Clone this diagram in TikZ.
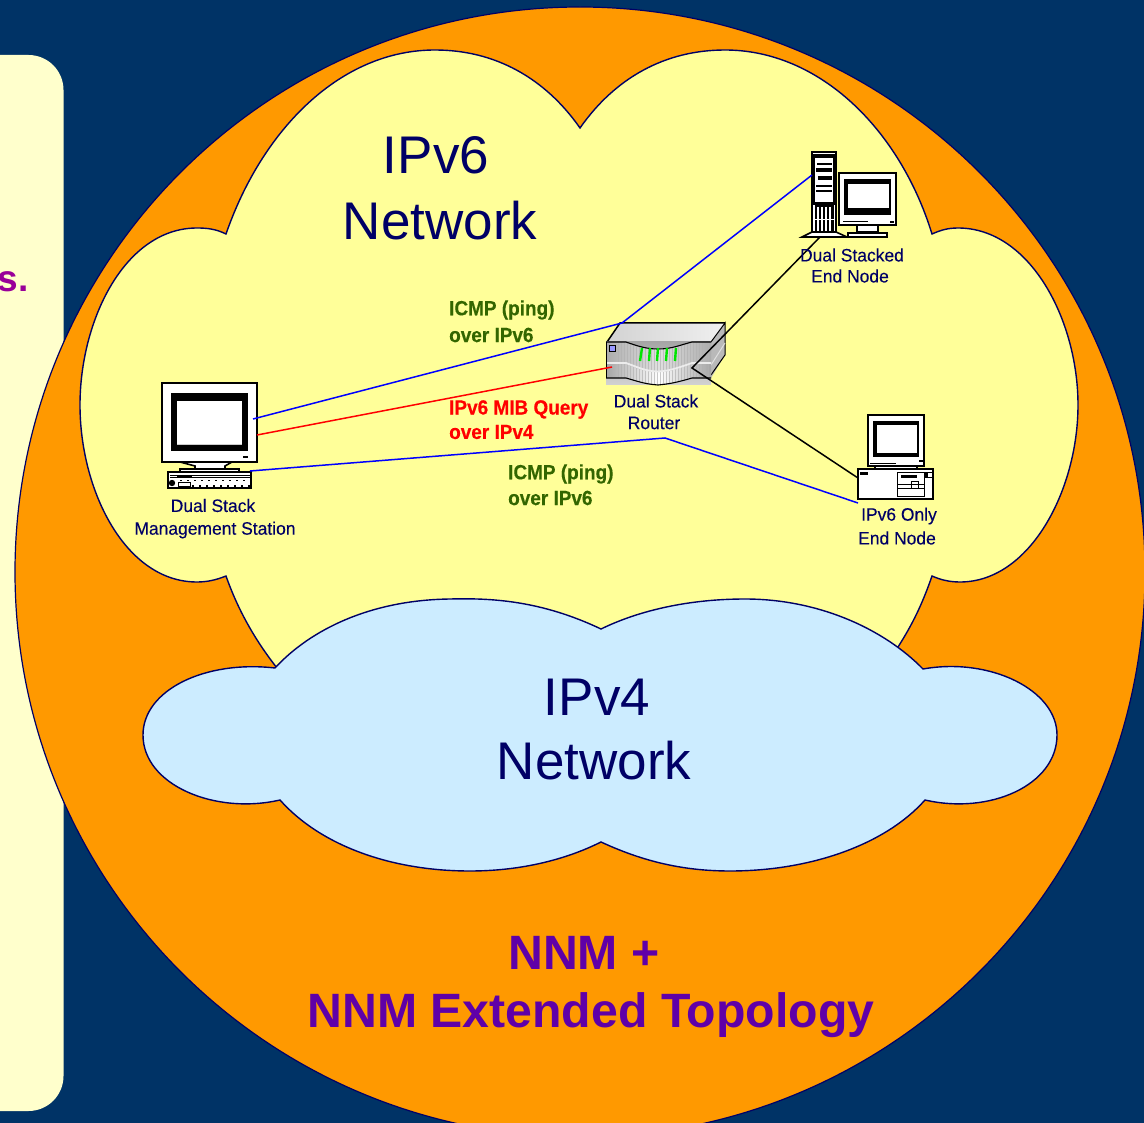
\documentclass[tikz,border=0pt]{standalone}
\usepackage{fontspec}
\setmainfont{Liberation Sans}
\newfontfamily\labelfont[FakeStretch=0.97,FakeBold=0.15]{Liberation Sans}
\newfontfamily\boldlabel[FakeStretch=0.925,FakeBold=0.3]{Liberation Sans Bold}
\definecolor{bgnavy}{HTML}{003366}
\definecolor{orangec}{HTML}{FF9900}
\definecolor{yellowc}{HTML}{FFFF99}
\definecolor{bluec}{HTML}{CCECFF}
\definecolor{panelc}{HTML}{FFFFCC}
\definecolor{inkc}{HTML}{000066}
\definecolor{greenc}{HTML}{336600}
\definecolor{purplec}{HTML}{5F00A8}
\definecolor{magc}{HTML}{990099}
\definecolor{linkblue}{HTML}{0000FF}
\tikzset{
 x=1pt,y=-1pt,
 bigtext/.style={text=inkc,font=\fontsize{53}{58}\selectfont,inner sep=0,anchor=center},
 nnmtext/.style={text=purplec,font=\fontsize{48.2}{52}\selectfont\bfseries,inner sep=0,anchor=center},
 smalltext/.style={text=inkc,font=\labelfont\fontsize{18}{20}\selectfont,inner sep=0,anchor=center},
 linktext/.style={font=\boldlabel\fontsize{20.5}{22}\selectfont,inner sep=0,anchor=west},
 cloudline/.style={draw=inkc,line width=1.4pt},
 icon/.style={draw=black,line width=1.6pt,fill=white},
 blacker/.style={fill=black,draw=none},
 linkb/.style={draw=linkblue,line width=1.5pt},
 linkr/.style={draw=red,line width=1.5pt},
 linkk/.style={draw=black,line width=1.5pt},
}
\begin{document}
\begin{tikzpicture}
\useasboundingbox (0,0) rectangle (1144,1123);
\fill[bgnavy] (0,0) rectangle (1144,1123);
% left panel
\fill[panelc,rounded corners=35pt] (-60,55) rectangle (63.5,1111);
\node[text=magc,font=\fontsize{37}{40}\selectfont\bfseries,inner sep=0,anchor=east] (sfrag) at (29,282) {s.};
% orange circle
\filldraw[fill=orangec,draw=inkc,line width=1.2pt] (580,572) circle[radius=565];
% yellow cloud
\path[cloudline,fill=yellowc] (580,128)
  .. controls (545,78) and (495,50) .. (435,50)
  .. controls (340,50) and (262,130) .. (226,234)
  .. controls (216,229) and (207,228) .. (197,228)
  .. controls (125,228) and (80,320) .. (80,405)
  .. controls (80,490) and (125,582) .. (197,582)
  .. controls (207,582) and (216,580) .. (226,576)
  .. controls (238,610) and (255,640) .. (277,668)
  -- (898,647)
  .. controls (912,625) and (922,605) .. (932,576)
  .. controls (941,580) and (950,582) .. (960,582)
  .. controls (1030,582) and (1078,490) .. (1078,405)
  .. controls (1078,320) and (1030,228) .. (958,228)
  .. controls (948,228) and (941,230) .. (932,234)
  .. controls (900,130) and (820,50) .. (725,50)
  .. controls (665,50) and (615,78) .. (580,128) -- cycle;
% blue cloud
\path[cloudline,fill=bluec] (601,629)
  .. controls (540,600) and (490,598) .. (450,599)
  .. controls (370,600) and (310,630) .. (275,668)
  .. controls (205,660) and (143,690) .. (143,735)
  .. controls (143,785) and (215,815) .. (280,800)
  .. controls (320,845) and (390,871) .. (470,871)
  .. controls (520,871) and (565,860) .. (601,842)
  .. controls (640,860) and (680,871) .. (730,871)
  .. controls (810,871) and (885,845) .. (925,800)
  .. controls (990,815) and (1057,785) .. (1057,735)
  .. controls (1057,690) and (990,657) .. (923,669)
  .. controls (885,630) and (820,599) .. (745,599)
  .. controls (690,599) and (640,610) .. (601,629) -- cycle;
% titles
\node[bigtext] (v6a) at (436,155) {IPv6};
\node[bigtext] (v6b) at (440,221) {Network};
\node[bigtext] (v4a) at (597,697) {IPv4};
\node[bigtext] (v4b) at (594,761) {Network};
\node[nnmtext] (n1) at (584,953) {NNM +};
\node[nnmtext] (n2) at (591,1015) {NNM Extended Topology};
% --- management station
\draw[icon] (162,383) rectangle (257,462);
\fill[blacker] (171,393) rectangle (248,451);
\fill[white] (177,401) rectangle (242,445);
\fill[gray!40] (177,444) rectangle (242,445);
\fill[black] (243,456) rectangle (248,458);
\draw[icon] (180,462) -- (232,462) -- (225,466) -- (225,469) -- (195,469) -- (195,466) -- cycle;
\draw[icon] (180,469) rectangle (239,472);
\draw[icon] (168,472) rectangle (251,488);
\fill[black] (177,476) rectangle (192,478);
\draw[black,line width=.8pt] (170,475) -- (250,475);
\draw[black,line width=.8pt] (170,477.5) -- (250,477.5);
\fill[black] (172,483) circle[radius=3.2];
\draw[black,line width=.7pt] (178,482) rectangle (190,486);
\draw[black,line width=1.2pt,dash pattern=on 2pt off 5pt] (180,480.5) -- (250,480.5);
\draw[black,line width=1.2pt,dash pattern=on 2pt off 5pt] (192,486) -- (250,486);
% --- dual stacked node
\draw[icon] (802,237) -- (812,232) -- (836,232) -- (847,237) -- cycle;
\draw[icon] (812,152) rectangle (836,232);
\fill[black] (813,154) rectangle (835,205);
\fill[white] (815,158) rectangle (833,202);
\fill[black] (817,163) rectangle (832,165);
\fill[black] (816,168) rectangle (832,172);
\fill[black] (818,176) rectangle (832,180);
\fill[black] (816,185) rectangle (832,187);
\fill[black] (816,190) rectangle (832,192);
\fill[black] (815,205) rectangle (834,232);
\foreach \xx in {818,822,826,830}{\draw[white,line width=1.2pt] (\xx,207) -- (\xx,231);}
\draw[white,line width=.8pt] (815,219) -- (834,219);
\draw[icon] (839,173) rectangle (896,225);
\fill[blacker] (844,179) rectangle (891,215);
\fill[white] (848,184) rectangle (889,208);
\fill[black] (890,221) rectangle (894,223);
\draw[black,line width=.8pt] (843,221) -- (868,221);
\draw[icon] (857,225) -- (878,225) -- (878,232) -- (857,232) -- cycle;
\draw[icon] (848,233) rectangle (887,237);
% --- IPv6 only node
\draw[icon] (868,415) rectangle (924,466);
\fill[blacker] (873,421) rectangle (919,457);
\fill[white] (877,425) rectangle (917,453);
\fill[black] (919,460) rectangle (923,462);
\draw[black,line width=.8pt] (870,463) -- (896,463);
\draw[icon] (875,466) rectangle (917,470);
\draw[icon] (858,469) rectangle (933,499);
\fill[black] (860,472) rectangle (868,475);
\draw[black,line width=.9pt] (897,472) rectangle (924,496);
\fill[black] (901,475) rectangle (917,478);
\draw[black,line width=.9pt] (897,484) -- (924,484);
\draw[black,line width=.9pt] (897,488) -- (924,488);
\draw[black,line width=.9pt] (911,481) rectangle (918,488);
\draw[black,line width=.9pt] (925,472) rectangle (932,477);
\fill[black] (925,472) rectangle (928,477);
% --- router
\shade[left color=gray!35,right color=gray!12] (607,342) -- (620,323) -- (725,323) -- (711,342) -- cycle;
\draw[black,line width=1.5pt] (607,342) -- (620,323) -- (725,323);
\fill[gray!55] (711,342) -- (725,323) -- (725,355) -- (711,378) -- cycle;
\draw[black,line width=1pt] (711,342) -- (725,323) -- (725,355) -- (711,375);
\draw[gray!25,line width=1pt] (711,365) -- (725,343);
\shade[top color=gray!70,bottom color=gray!35] (606,342) rectangle (711,385);
\shade[left color=gray!65,right color=gray!65,middle color=gray!25]
  (606,342) -- (626,342) .. controls (640,347) and (648,349) .. (658,349)
  .. controls (672,349) and (680,345) .. (692,342) -- (711,342) -- (711,362)
  -- (692,362) .. controls (675,370) and (668,371) .. (658,371)
  .. controls (645,371) and (640,368) .. (626,362) -- (606,362) -- cycle;
\shade[left color=gray!70,right color=gray!70,middle color=white]
  (606,364) -- (626,364) .. controls (640,370) and (648,372) .. (658,372)
  .. controls (672,372) and (680,368) .. (692,364) -- (711,364) -- (711,378)
  -- (692,378) .. controls (675,383) and (668,384) .. (658,384)
  .. controls (645,384) and (640,382) .. (626,378) -- (606,378) -- cycle;
\begin{scope}
  \clip (606,342) -- (626,342) .. controls (640,347) and (648,349) .. (658,349)
  .. controls (672,349) and (680,345) .. (692,342) -- (711,342) -- (711,378)
  -- (692,378) .. controls (675,383) and (668,384) .. (658,384)
  .. controls (645,384) and (640,382) .. (626,378) -- (606,378) -- cycle;
  \foreach \rib in {618,621,...,708}{\draw[gray!60,line width=.7pt,opacity=.7] (\rib,340) -- (\rib,386);}
\end{scope}
\draw[black,line width=1.1pt] (606,342) -- (626,342) .. controls (640,347) and (648,349) .. (658,349)
  .. controls (672,349) and (680,345) .. (692,342) -- (711,342);
\draw[black,line width=1.1pt] (606,378) -- (626,378) .. controls (640,382) and (645,384) .. (658,385)
  .. controls (668,384) and (675,383) .. (692,378) -- (711,378);
\draw[white!85!gray,line width=1.8pt] (606,363) -- (626,363) .. controls (640,368) and (645,371) .. (658,371.5)
  .. controls (668,371) and (675,369) .. (692,363) -- (711,363);
\draw[black,line width=.7pt] (606,342) -- (606,378);
\draw[black,line width=.8pt,fill=blue!40] (609,345) rectangle (615,351);
\foreach \xa/\xb in {642/640,650/649,658/657,667/666,676/675}{\draw[green!90!black,line width=2.4pt] (\xa,348) -- (\xb,361);}
% --- named link ends
\coordinate (msA) at (253,419);
\coordinate (msB) at (257,435);
\coordinate (msC) at (250,471);
\coordinate (rtTop) at (622,323);
\coordinate (rtRed) at (612,367);
\coordinate (rtHub) at (692,368);
\coordinate (dsBlue) at (812,175);
\coordinate (dsBlack) at (820,237);
\coordinate (v6Black) at (858,478);
\coordinate (v6Blue) at (858,503);
\coordinate (bend) at (665,438);
\draw[linkb] (msA) -- (rtTop) -- (dsBlue);
\draw[linkr] (msB) -- (rtRed);
\draw[linkb] (msC) -- (bend) -- (v6Blue);
\draw[linkk] (dsBlack) -- (rtHub) -- (v6Black);
% labels
\node[smalltext] (l1) at (213,505.5) {Dual Stack};
\node[smalltext] (l2) at (215,530) {Management Station};
\node[smalltext] (l3) at (656,401) {Dual Stack};
\node[smalltext] (l4) at (654,423) {Router};
\node[smalltext] (l5) at (852,255) {Dual Stacked};
\node[smalltext] (l6) at (850,276) {End Node};
\node[smalltext] (l7) at (899,516) {IPv6 Only};
\node[smalltext] (l8) at (897,538) {End Node};
\node[linktext,text=greenc] (t1) at (449,310) {ICMP (ping)};
\node[linktext,text=greenc] (t2) at (449,335) {over IPv6};
\node[linktext,text=red] (t3) at (449,409.5) {IPv6 MIB Query};
\node[linktext,text=red] (t4) at (449,432) {over IPv4};
\node[linktext,text=greenc] (t5) at (508,474) {ICMP (ping)};
\node[linktext,text=greenc] (t6) at (508,498) {over IPv6};
\end{tikzpicture}
\end{document}
